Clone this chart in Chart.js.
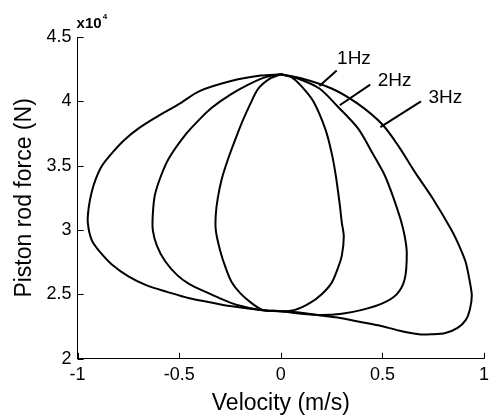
<!DOCTYPE html>
<html>
<head>
<meta charset="utf-8">
<script src="https://cdn.jsdelivr.net/npm/chart.js@4"></script>
<style>
  html, body { margin: 0; padding: 0; background: #fff; }
  #wrap { width: 489px; height: 420px; }
</style>
</head>
<body>
<div id="wrap"><canvas id="grafica"></canvas></div>
<script>
const v1Hz = [0, 0.05, 0.10, 0.16, 0.22, 0.25, 0.27, 0.29, 0.30, 0.31, 0.30, 0.28, 0.25, 0.20, 0.14, 0.07, 0,
  -0.09, -0.15, -0.20, -0.24, -0.27, -0.30, -0.32, -0.32, -0.31, -0.29, -0.26, -0.22, -0.19, -0.15, -0.11, -0.05, 0];
const f1Hz = [4.21, 4.19, 4.12, 4.00, 3.78, 3.60, 3.43, 3.20, 3.06, 2.95, 2.80, 2.70, 2.59, 2.50, 2.43, 2.38, 2.37,
  2.38, 2.44, 2.51, 2.59, 2.70, 2.85, 3.00, 3.12, 3.25, 3.40, 3.55, 3.72, 3.84, 3.98, 4.10, 4.18, 4.21];

const v2Hz = [0, 0.08, 0.19, 0.28, 0.38, 0.45, 0.51, 0.55, 0.59, 0.61, 0.62, 0.61, 0.57, 0.50, 0.40, 0.30, 0.20, 0.10, 0,
  -0.10, -0.22, -0.30, -0.37, -0.45, -0.51, -0.57, -0.61, -0.63, -0.63, -0.62, -0.59, -0.55, -0.47, -0.40, -0.34, -0.25, -0.16, -0.07, 0];
const f2Hz = [4.21, 4.18, 4.10, 3.96, 3.79, 3.60, 3.43, 3.27, 3.08, 2.95, 2.82, 2.62, 2.50, 2.43, 2.38, 2.35, 2.34, 2.35, 2.37,
  2.38, 2.42, 2.47, 2.52, 2.58, 2.65, 2.76, 2.88, 3.00, 3.12, 3.27, 3.42, 3.56, 3.74, 3.86, 3.95, 4.05, 4.13, 4.19, 4.21];

const v3Hz = [0, 0.10, 0.25, 0.38, 0.50, 0.58, 0.66, 0.75, 0.84, 0.88, 0.91, 0.93, 0.94, 0.93, 0.91, 0.87, 0.81, 0.74, 0.68,
  0.58, 0.48, 0.38, 0.28, 0.18, 0.09, 0, -0.10, -0.25, -0.35, -0.45, -0.56, -0.66, -0.75, -0.83, -0.89, -0.93, -0.95,
  -0.945, -0.93, -0.91, -0.88, -0.83, -0.77, -0.70, -0.61, -0.50, -0.40, -0.24, -0.10, 0];
const f3Hz = [4.21, 4.18, 4.10, 3.98, 3.82, 3.65, 3.45, 3.24, 3.00, 2.87, 2.75, 2.60, 2.49, 2.38, 2.30, 2.24, 2.20, 2.19, 2.19,
  2.22, 2.26, 2.29, 2.32, 2.34, 2.36, 2.37, 2.38, 2.41, 2.44, 2.47, 2.52, 2.57, 2.64, 2.73, 2.83, 2.92, 3.06,
  3.18, 3.30, 3.40, 3.50, 3.60, 3.70, 3.79, 3.88, 3.98, 4.08, 4.16, 4.20, 4.21];

// curve labels with leader lines (data coords)
const labelNames = ["1Hz", "2Hz", "3Hz"];
const labelAt = [[0.36, 4.33], [0.56, 4.16], [0.81, 4.03]];
const leaderFrom = [[0.275, 4.24], [0.44, 4.13], [0.69, 4.00]];
const leaderTo = [[0.19, 4.12], [0.29, 3.97], [0.49, 3.80]];

const xTicks = [-1, -0.5, 0, 0.5, 1];
const yTicks = [2, 2.5, 3, 3.5, 4, 4.5];

const pts = (xs, ys) => xs.map((x, i) => ({ x: x, y: ys[i] }));
const FONT = "'Liberation Sans', Arial, sans-serif";

const serie = (name, xs, ys) => ({
  label: name,
  data: pts(xs, ys),
  showLine: true,
  borderColor: "#000",
  borderWidth: 2,
  pointRadius: 0,
  tension: 0.3,
  fill: false
});

// inward tick marks, x10^4 multiplier and the curve labels
const extras = {
  id: "extras",
  afterDraw(chart) {
    const c = chart.ctx, xs = chart.scales.x, ys = chart.scales.y;
    c.save();
    c.strokeStyle = "#000";
    c.lineWidth = 1;
    c.beginPath();
    xTicks.forEach(t => {
      const px = Math.round(xs.getPixelForValue(t)) + 0.5;
      c.moveTo(px, ys.bottom); c.lineTo(px, ys.bottom - 6);
    });
    yTicks.forEach(t => {
      const py = Math.round(ys.getPixelForValue(t)) + 0.5;
      c.moveTo(xs.left, py); c.lineTo(xs.left + 6, py);
    });
    c.stroke();

    c.fillStyle = "#000";
    c.font = "bold 15px " + FONT;
    c.textAlign = "left";
    c.textBaseline = "alphabetic";
    c.fillText("x10", xs.left - 1, ys.top - 9);
    const w = c.measureText("x10").width;
    c.font = "bold 8px " + FONT;
    c.fillText("4", xs.left + w, ys.top - 18);

    c.lineWidth = 2;
    c.font = "19px " + FONT;
    c.textAlign = "center";
    c.textBaseline = "middle";
    labelNames.forEach((n, i) => {
      c.beginPath();
      c.moveTo(xs.getPixelForValue(leaderFrom[i][0]), ys.getPixelForValue(leaderFrom[i][1]));
      c.lineTo(xs.getPixelForValue(leaderTo[i][0]), ys.getPixelForValue(leaderTo[i][1]));
      c.stroke();
      c.fillText(n, xs.getPixelForValue(labelAt[i][0]), ys.getPixelForValue(labelAt[i][1]));
    });
    c.restore();
  }
};

new Chart(document.getElementById("grafica"), {
  type: "scatter",
  data: {
    datasets: [
      serie("1Hz", v1Hz, f1Hz),
      serie("2Hz", v2Hz, f2Hz),
      serie("3Hz", v3Hz, f3Hz)
    ]
  },
  options: {
    responsive: true,
    maintainAspectRatio: false,
    animation: false,
    layout: { padding: { left: 7, top: 37, right: 0, bottom: 2 } },
    plugins: {
      legend: { display: false },
      tooltip: { enabled: false }
    },
    scales: {
      x: {
        type: "linear",
        min: -1,
        max: 1,
        afterBuildTicks: s => { s.ticks = xTicks.map(v => ({ value: v })); },
        ticks: { font: { family: FONT, size: 18 }, color: "#000", padding: 0, autoSkip: false, maxRotation: 0, callback: v => String(v) },
        grid: { display: false, drawTicks: true, tickLength: 5 },
        border: { display: true, color: "#000", width: 1 },
        title: { display: true, text: "Velocity (m/s)", color: "#000", font: { family: FONT, size: 23 }, padding: { top: 4, bottom: 1 } }
      },
      y: {
        type: "linear",
        min: 2,
        max: 4.5,
        afterBuildTicks: s => { s.ticks = yTicks.map(v => ({ value: v })); },
        ticks: { font: { family: FONT, size: 18 }, color: "#000", padding: 6, autoSkip: false, callback: v => String(v) },
        grid: { display: false, drawTicks: false },
        border: { display: true, color: "#000", width: 1 },
        title: { display: true, text: "Piston rod force (N)", color: "#000", font: { family: FONT, size: 23 }, padding: { top: 4, bottom: 2 } }
      }
    }
  },
  plugins: [extras]
});
</script>
</body>
</html>
